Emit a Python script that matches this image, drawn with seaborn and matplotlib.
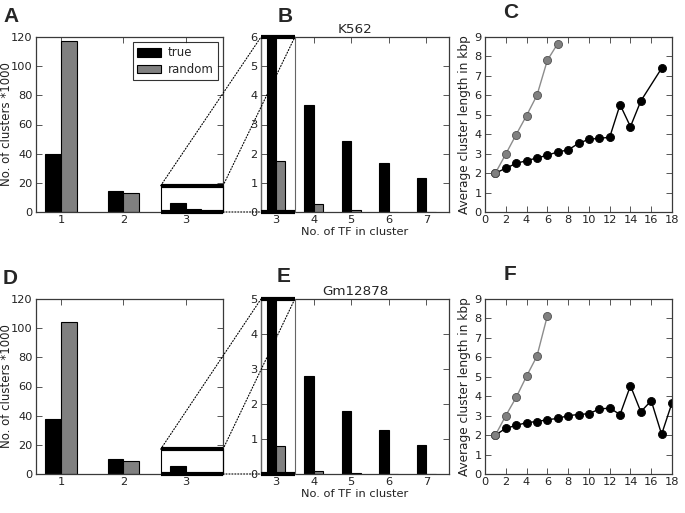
import matplotlib
matplotlib.use("Agg")
import matplotlib.pyplot as plt
import seaborn as sns
import pandas as pd
from matplotlib.patches import Rectangle, ConnectionPatch

# ---- data ----
kinds = ["true", "random"]

k562_tf = [1, 2, 3]
k562_true = [40.0, 14.5, 6.4]
k562_random = [117.0, 13.0, 1.74]

k562_zoom_tf = [3, 4, 5, 6, 7]
k562_zoom_true = [6.4, 3.66, 2.45, 1.69, 1.15]
k562_zoom_random = [1.74, 0.26, 0.06, 0.01, 0.01]

gm_tf = [1, 2, 3]
gm_true = [37.5, 10.2, 5.2]
gm_random = [104.0, 9.2, 0.79]

gm_zoom_tf = [3, 4, 5, 6, 7]
gm_zoom_true = [5.2, 2.81, 1.79, 1.25, 0.815]
gm_zoom_random = [0.79, 0.09, 0.02, 0.01, 0.01]

c_rand_x = [1, 2, 3, 4, 5, 6, 7]
c_rand_y = [2.0, 2.98, 3.98, 4.96, 6.0, 7.8, 8.66]
c_true_x = [1, 2, 3, 4, 5, 6, 7, 8, 9, 10, 11, 12, 13, 14, 15, 17]
c_true_y = [2.0, 2.25, 2.5, 2.64, 2.78, 2.92, 3.09, 3.19, 3.53, 3.74, 3.79, 3.84,
            5.52, 4.39, 5.71, 7.39]

f_rand_x = [1, 2, 3, 4, 5, 6]
f_rand_y = [2.0, 3.0, 3.94, 5.03, 6.06, 8.13]
f_true_x = list(range(1, 19))
f_true_y = [2.0, 2.35, 2.5, 2.64, 2.7, 2.79, 2.86, 3.0, 3.06, 3.1, 3.34, 3.39,
            3.06, 4.54, 3.2, 3.77, 2.04, 3.66]

# zoom boxes (overview box top, zoom ylim)
k562_box_top, k562_zoom_top = 18, 6
gm_box_top, gm_zoom_top = 17, 5

W, H = 685, 513
SPINE = "#3a3a3a"

sns.set_theme(style="ticks", rc={
    "axes.edgecolor": SPINE,
    "axes.linewidth": 0.9,
    "xtick.direction": "in", "ytick.direction": "in",
    "xtick.top": True, "ytick.right": True,
    "xtick.color": SPINE, "ytick.color": SPINE,
    "xtick.labelcolor": "#222222", "ytick.labelcolor": "#222222",
    "xtick.major.size": 4, "ytick.major.size": 4,
    "xtick.major.width": 0.6, "ytick.major.width": 0.6,
    "xtick.major.pad": 2.5, "ytick.major.pad": 2.5,
    "xtick.labelsize": 8.2, "ytick.labelsize": 8.2,
    "axes.labelsize": 8.2, "axes.titlesize": 9.7,
    "axes.labelcolor": "#222222",
})
plt.rcParams["font.family"] = ["DejaVu Sans"]

fig = plt.figure(figsize=(W / 100, H / 100), dpi=100)


def add_ax(x, ytop, w, h):
    return fig.add_axes([x / W, 1 - (ytop + h) / H, w / W, h / H])


def bars(ax, tf, true, rand, legend=False):
    df = pd.DataFrame({
        "tf": tf * 2,
        "kind": ["true"] * len(tf) + ["random"] * len(tf),
        "value": true + rand,
    })
    sns.barplot(data=df, x="tf", y="value", hue="kind", hue_order=kinds,
                native_scale=True, width=0.5, saturation=1, errorbar=None,
                palette={"true": "black", "random": "#808080"},
                edgecolor="black", linewidth=0.8, legend=legend, ax=ax)
    ax.set_xticks(tf)
    ax.set_xlabel("")
    ax.set_ylabel("")


def lines(ax, rx, ry, tx, ty):
    sns.lineplot(x=tx, y=ty, color="black", marker="o", markersize=5.8,
                 markeredgecolor="black", markeredgewidth=0.6, linewidth=1.0, ax=ax)
    sns.lineplot(x=rx, y=ry, color="#8c8c8c", marker="o", markersize=5.8,
                 markerfacecolor="#808080", markeredgecolor="#505050",
                 markeredgewidth=0.6, linewidth=1.0, ax=ax)
    ax.set_xlim(0, 18)
    ax.set_ylim(0, 9)
    ax.set_xticks(range(0, 19, 2))
    ax.set_yticks(range(0, 10))
    ax.set_ylabel("Average cluster length in kbp", fontsize=8.7)
    ax.yaxis.set_label_coords(-0.075, 0.5)


def zoom_marks(ax_o, ax_z, box_top, zoom_top):
    ax_o.add_patch(Rectangle((2.6, 0), 1.0, box_top, fill=False, lw=0.8,
                             ec="black", clip_on=False, zorder=5))
    for y in (0, box_top):
        ax_o.plot([2.6, 3.6], [y, y], color="black", lw=3, clip_on=False,
                  solid_capstyle="butt", zorder=6)
    ax_z.add_patch(Rectangle((2.6, 0), 0.9, zoom_top, fill=False, lw=0.8,
                             ec="#666666", clip_on=False, zorder=5))
    for y in (0, zoom_top):
        ax_z.plot([2.6, 3.5], [y, y], color="black", lw=3, clip_on=False,
                  solid_capstyle="butt", zorder=6)
    for xa, ya, xb, yb in [(2.6, box_top, 2.6, zoom_top),
                           (3.6, box_top, 3.5, zoom_top),
                           (3.6, 0, 2.6, 0)]:
        con = ConnectionPatch(xyA=(xa, ya), coordsA=ax_o.transData,
                              xyB=(xb, yb), coordsB=ax_z.transData,
                              ls=":", lw=0.8, color="black")
        fig.add_artist(con)


rows = [
    (37, k562_tf, k562_true, k562_random, k562_zoom_tf, k562_zoom_true,
     k562_zoom_random, k562_box_top, k562_zoom_top, "K562",
     c_rand_x, c_rand_y, c_true_x, c_true_y),
    (299, gm_tf, gm_true, gm_random, gm_zoom_tf, gm_zoom_true,
     gm_zoom_random, gm_box_top, gm_zoom_top, "Gm12878",
     f_rand_x, f_rand_y, f_true_x, f_true_y),
]

for i, (top, tf, tr, rd, ztf, ztr, zrd, btop, ztop, title, rx, ry, tx, ty) in enumerate(rows):
    ax1 = add_ax(36, top, 187, 175)
    bars(ax1, tf, tr, rd, legend=(i == 0))
    ax1.set_xlim(0.6, 3.6)
    ax1.set_ylim(0, 120)
    ax1.set_yticks(range(0, 121, 20))
    ax1.set_ylabel("No. of clusters *1000", fontsize=8.5)
    ax1.yaxis.set_label_coords(-0.124, 0.5)
    if i == 0:
        leg = ax1.legend(loc="upper right", fontsize=8.5, frameon=True,
                         fancybox=False, edgecolor="black", handlelength=2.0,
                         handleheight=0.75, borderaxespad=0.45,
                         borderpad=0.35, labelspacing=0.3, handletextpad=0.6)
        leg.get_frame().set_linewidth(0.8)

    ax2 = add_ax(261, top, 188, 175)
    bars(ax2, ztf, ztr, zrd)
    ax2.set_xlim(2.6, 7.6)
    ax2.set_ylim(0, ztop)
    ax2.set_yticks(range(0, ztop + 1))
    ax2.set_title(title, pad=3)
    ax2.set_xlabel("No. of TF in cluster", labelpad=1)

    ax3 = add_ax(485, top, 187, 175)
    lines(ax3, rx, ry, tx, ty)

    zoom_marks(ax1, ax2, btop, ztop)

letter_font = dict(family=["Liberation Sans", "DejaVu Sans"], fontsize=15,
                   fontweight="bold", ha="center", va="center")
for lab, x, y in [("A", 11, 16), ("B", 285, 16), ("C", 511, 12),
                  ("D", 10, 278), ("E", 284, 276), ("F", 510, 274)]:
    fig.text(x / W, 1 - y / H, lab, **letter_font)

plt.savefig("out.png", dpi=100)
plt.close()
